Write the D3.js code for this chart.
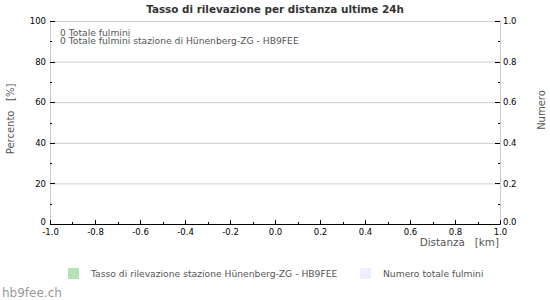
<!DOCTYPE html>
<html>
<head>
<meta charset="utf-8">
<script src="https://cdn.jsdelivr.net/npm/d3@7"></script>
<style>
  body { margin: 0; background: #fff; }
  svg { font-family: "DejaVu Sans", sans-serif; }
</style>
</head>
<body>
<svg id="chart" width="550" height="300"></svg>
<script>
// dati (ultime 24h: nessun fulmine)
var distances = [];
var detectionRate = [];
var strikeCounts = [];
var totalStrikes = 0;
var stationStrikes = 0;
var stationName = "Hünenberg-ZG - HB9FEE";

var xDomain = [-1, 1];
var yLeftDomain = [0, 100];
var yRightDomain = [0, 1];

var svg = d3.select("#chart"),
    margin = {top: 21, right: 50, bottom: 76, left: 50},
    width = 550 - margin.left - margin.right,
    height = 300 - margin.top - margin.bottom,
    g = svg.append("g").attr("transform", "translate(" + margin.left + "," + margin.top + ")");

var x = d3.scaleLinear().domain(xDomain).range([0, width]);
var y = d3.scaleLinear().domain(yLeftDomain).range([height, 0]);
var y2 = d3.scaleLinear().domain(yRightDomain).range([height, 0]);

// griglia
g.selectAll(".grid")
  .data(y.ticks(5))
  .enter().append("line")
  .attr("x1", 0).attr("x2", width)
  .attr("y1", function(d) { return y(d) + 0.5; })
  .attr("y2", function(d) { return y(d) + 0.5; })
  .attr("stroke", "#cccccc");

// bordo
g.append("rect")
  .attr("x", 0.5).attr("y", 0.5)
  .attr("width", width).attr("height", height)
  .attr("fill", "none").attr("stroke", "#cccccc");

// barre (vuote)
var bw = distances.length ? width / distances.length : 0;
g.selectAll(".bar")
  .data(distances)
  .enter().append("rect")
  .attr("x", function(d) { return x(d) - bw / 2; })
  .attr("y", function(d, i) { return y(detectionRate[i]); })
  .attr("width", bw)
  .attr("height", function(d, i) { return height - y(detectionRate[i]); })
  .attr("fill", "#b5e3b5");

g.append("path")
  .datum(strikeCounts)
  .attr("fill", "none")
  .attr("stroke", "#ddddff")
  .attr("d", d3.line().x(function(d, i) { return x(distances[i]); }).y(function(d) { return y2(d); }));

// assi
var fmt1 = function(d) { return d.toFixed(1); };
var xAxis = g.append("g")
  .attr("transform", "translate(0," + height + ")")
  .call(d3.axisBottom(x).ticks(10).tickFormat(fmt1).tickSize(0).tickPadding(5));
xAxis.select(".domain").attr("stroke", "#000");

g.selectAll(".xtick")
  .data(d3.range(-1, 1.001, 0.1))
  .enter().append("line")
  .attr("x1", function(d) { return Math.round(x(d)) + 0.5; })
  .attr("x2", function(d) { return Math.round(x(d)) + 0.5; })
  .attr("y1", height)
  .attr("y2", function(d, i) { return height - (i % 2 ? 2 : 4); })
  .attr("stroke", "#000");

var yAxis = g.append("g")
  .call(d3.axisLeft(y).ticks(5).tickSize(0).tickPadding(4));
yAxis.select(".domain").remove();
yAxis.selectAll(".tick text").filter(function(d) { return d === 0; }).attr("dy", "0.1em");

g.selectAll(".ytick")
  .data(d3.range(0, 101, 10))
  .enter().append("line")
  .attr("x1", 0)
  .attr("x2", function(d, i) { return i % 2 ? 2 : 5; })
  .attr("y1", function(d) { return Math.round(y(d)) + 0.5; })
  .attr("y2", function(d) { return Math.round(y(d)) + 0.5; })
  .attr("stroke", "#000");

var y2Axis = g.append("g")
  .attr("transform", "translate(" + width + ",0)")
  .call(d3.axisRight(y2).ticks(5).tickFormat(fmt1).tickSize(0).tickPadding(3));
y2Axis.select(".domain").remove();
y2Axis.selectAll(".tick text").filter(function(d) { return d === 0; }).attr("dy", "0.1em");

g.selectAll(".y2tick")
  .data(d3.range(0, 1.001, 0.1))
  .enter().append("line")
  .attr("x1", width)
  .attr("x2", function(d, i) { return width - (i % 2 ? 2 : 5); })
  .attr("y1", function(d) { return Math.round(y2(d)) + 0.5; })
  .attr("y2", function(d) { return Math.round(y2(d)) + 0.5; })
  .attr("stroke", "#000");

svg.selectAll(".tick text").attr("font-size", 8.5).attr("fill", "#000").attr("font-family", "DejaVu Sans");

// titoli
svg.append("text")
  .attr("x", 275).attr("y", 13)
  .attr("text-anchor", "middle")
  .attr("font-size", 10.4).attr("font-weight", "bold").attr("fill", "#333")
  .text("Tasso di rilevazione per distanza ultime 24h");

svg.append("text")
  .attr("transform", "translate(14,119) rotate(-90)")
  .attr("text-anchor", "middle")
  .attr("font-size", 10).attr("fill", "#555")
  .attr("xml:space", "preserve")
  .text("Percento   [%]");

svg.append("text")
  .attr("transform", "translate(545,110) rotate(-90)")
  .attr("text-anchor", "middle")
  .attr("font-size", 10).attr("fill", "#555")
  .text("Numero");

svg.append("text")
  .attr("x", 499).attr("y", 246)
  .attr("text-anchor", "end")
  .attr("font-size", 10.4).attr("fill", "#555")
  .attr("xml:space", "preserve")
  .text("Distanza   [km]");

// note
g.append("text")
  .attr("x", 10).attr("y", 15)
  .attr("font-size", 9.2).attr("fill", "#555")
  .text(totalStrikes + " Totale fulmini");
g.append("text")
  .attr("x", 10).attr("y", 23)
  .attr("font-size", 9.2).attr("fill", "#555")
  .text(stationStrikes + " Totale fulmini stazione di " + stationName);

// legenda
var legendItems = [
  {label: "Tasso di rilevazione stazione " + stationName, color: "#b5e3b5", x: 68},
  {label: "Numero totale fulmini", color: "#eeeeff", x: 360}
];
var legend = svg.selectAll(".legend")
  .data(legendItems)
  .enter().append("g")
  .attr("transform", function(d) { return "translate(" + d.x + ",268)"; });
legend.append("rect")
  .attr("width", 11).attr("height", 11)
  .attr("fill", function(d) { return d.color; });
legend.append("text")
  .attr("x", 23).attr("y", 9)
  .attr("font-size", 9.2).attr("fill", "#555")
  .text(function(d) { return d.label; });

svg.append("text")
  .attr("x", 2).attr("y", 297)
  .attr("font-size", 12).attr("fill", "#999")
  .text("hb9fee.ch");
</script>
</body>
</html>
